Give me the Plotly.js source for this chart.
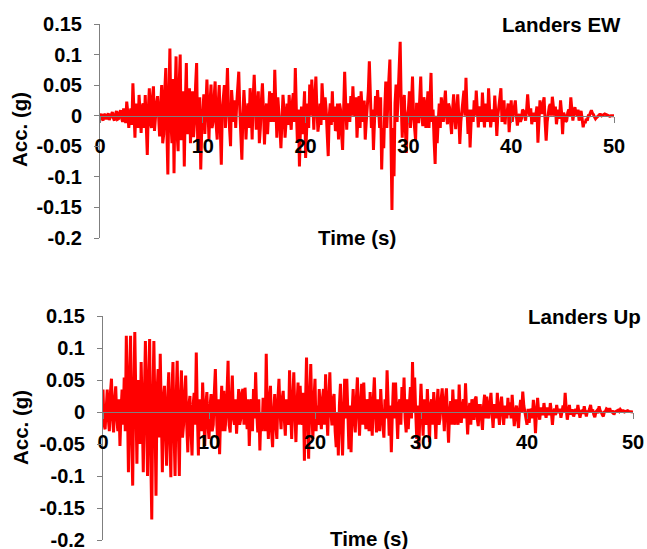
<!DOCTYPE html>
<html><head><meta charset="utf-8">
<script src="https://cdn.plot.ly/plotly-3.0.1.min.js"></script>
<style>html,body{margin:0;padding:0;background:#fff}#chart{width:647px;height:549px}</style>
</head><body><div id="chart"></div>
<script>
// sample interval (s)
const dt = 0.1;
// Landers EW acceleration (g), one value every 0.1 s from 0 to 50 s (one row per second)
const ewAcc = [
0, 0.003, -0.004, -0.008, 0.003, 0.001, -0.006, -0.002, 0.004, -0.007,
-0.003, 0.004, 0.006, -0.004, -0.008, 0.002, 0.008, -0.006, -0.005, 0.005,
0.009, -0.004, -0.01, 0.012, 0.007, -0.012, 0.023, 0.006, -0.02, 0.002,
0.012, -0.015, 0.053, 0.01, -0.036, 0.02, 0.01, -0.02, 0.034, 0.005,
-0.028, 0.015, 0.02, -0.02, 0.034, -0.015, -0.064, 0.01, 0.045, -0.01,
-0.02, 0.03, 0.048, -0.025, 0.005, 0.02, 0.032, -0.01, -0.034, 0.015,
0.05, -0.045, -0.03, 0.04, 0.078, -0.02, -0.096, 0.03, 0.11, -0.01,
-0.045, 0.06, -0.094, 0.03, 0.097, -0.03, -0.058, 0.05, 0.1, -0.04,
-0.02, 0.04, -0.083, 0.02, 0.086, -0.03, 0.01, 0.045, -0.045, 0.02,
0.04, -0.035, -0.01, 0.05, 0.086, -0.04, -0.02, 0.03, -0.088, -0.02,
0.015, 0.035, -0.03, 0.02, 0.059, 0.01, -0.039, 0.02, 0.051, -0.02,
-0.01, 0.03, 0.056, -0.015, -0.039, 0.02, 0.05, -0.02, -0.08, 0.01,
0.03, 0.05, -0.02, 0.03, 0.078, 0.01, -0.023, -0.05, 0.042, 0.01,
-0.01, 0.025, -0.02, 0.02, 0.04, 0.072, 0.01, -0.03, -0.072, 0.0,
0.042, 0.01, -0.039, 0.0, 0.02, -0.02, 0.045, 0.015, -0.039, 0.03,
0.067, 0.02, -0.023, 0.015, 0.04, -0.045, -0.02, 0.025, 0.053, 0.01,
-0.047, 0.0, 0.02, -0.03, 0.023, 0.04, -0.01, 0.015, 0.037, -0.01,
0.075, 0.02, -0.036, 0.03, 0.01, -0.02, -0.053, 0.0, 0.034, 0.01,
-0.036, -0.01, 0.02, -0.015, 0.034, 0.0, -0.023, 0.02, 0.037, -0.01,
0.078, 0.01, -0.042, 0.01, -0.083, -0.02, 0.015, -0.03, 0.004, 0.04,
-0.069, -0.01, 0.02, -0.02, 0.051, 0.0, 0.059, 0.02, -0.023, 0.03,
0.064, 0.01, -0.026, -0.01, 0.02, -0.015, 0.053, 0.02, -0.007, 0.03,
0.01, -0.03, -0.066, 0.0, 0.02, -0.015, 0.04, -0.01, 0.015, -0.025,
-0.02, 0.02, -0.039, 0.02, 0.01, -0.03, -0.056, 0.01, 0.072, 0.02,
-0.023, 0.02, 0.015, -0.01, 0.032, 0.0, 0.048, 0.01, 0.0, 0.03,
-0.036, 0.0, 0.032, -0.02, 0.04, 0.01, -0.01, 0.025, -0.039, -0.01,
0.018, 0.04, 0.089, 0.02, -0.02, 0.01, -0.056, -0.01, 0.032, 0.0,
0.042, 0.01, -0.02, 0.03, -0.088, -0.02, -0.053, 0.01, 0.056, -0.02,
0.01, 0.06, 0.092, -0.04, -0.154, -0.02, -0.099, 0.02, 0.051, -0.01,
0.03, 0.07, 0.121, 0.02, -0.036, 0.01, 0.034, -0.02, -0.061, 0.0,
0.01, 0.04, -0.02, 0.02, 0.064, 0.0, -0.026, -0.04, 0.021, -0.01,
-0.01, 0.03, 0.064, 0.0, -0.017, 0.03, 0.02, -0.02, 0.021, 0.04,
-0.02, 0.03, 0.07, -0.01, 0.01, -0.04, -0.079, 0.0, -0.045, -0.01,
0.02, -0.02, 0.03, 0.01, -0.01, 0.02, 0.041, 0.0, -0.014, 0.02,
0.014, -0.01, -0.03, 0.01, 0.035, 0.0, -0.022, 0.01, 0.035, 0.0,
-0.046, -0.01, 0.01, 0.02, 0.041, 0.0, 0.062, 0.01, -0.03, 0.01,
-0.052, -0.01, 0.01, -0.01, 0.025, 0.0, 0.041, 0.01, -0.019, 0.015,
0.01, -0.01, 0.038, 0.005, -0.019, 0.02, 0.01, -0.01, 0.045, 0.01,
-0.019, 0.0, 0.01, -0.01, 0.033, 0.005, -0.033, 0.0, 0.02, 0.03,
0.045, -0.01, 0.01, 0.025, -0.014, 0.01, 0.005, 0.02, -0.027, 0.0,
0.025, -0.01, 0.005, 0.015, 0.025, 0.0, -0.016, -0.005, 0.003, -0.01,
-0.005, 0.01, 0.008, 0.0, -0.008, 0.01, 0.035, 0.01, 0.0, 0.012,
-0.014, 0.0, 0.005, -0.01, 0.008, 0.015, -0.044, 0.0, 0.025, 0.005,
0.005, 0.02, 0.03, -0.01, -0.041, -0.01, 0.005, 0.015, 0.019, 0.0,
0.031, 0.01, 0.0, 0.015, -0.014, 0.0, 0.01, -0.005, 0.025, 0.005,
-0.03, 0.005, 0.0, -0.01, -0.008, 0.005, 0.01, 0.0, 0.03, 0.01,
-0.008, 0.005, 0.014, 0.005, 0.0, 0.01, -0.008, 0.0, 0.008, -0.005,
-0.019, -0.01, -0.012, -0.005, -0.008, 0.0, 0.0, 0.005, 0.009, 0.004,
0.002, -0.002, -0.005, -0.003, -0.002, 0.0, 0.002, 0.002, 0.0, 0.001,
0.003, 0.003, 0.002, 0.001, 0.001, 0.0, -0.001, 0.0, 0.0, 0.0,
0.0
];
// Landers Up acceleration (g), one value every 0.1 s from 0 to 50 s (one row per second)
const upAcc = [
0.035, -0.02, -0.027, 0.02, 0.035, -0.01, -0.03, 0.03, 0.052, -0.01,
-0.032, 0.02, 0.04, -0.01, -0.03, 0.02, -0.053, 0.0, 0.035, -0.02,
0.054, -0.03, 0.119, 0.02, -0.094, 0.05, 0.119, -0.04, -0.115, 0.03,
0.125, 0.02, -0.081, 0.05, 0.03, -0.05, 0.078, 0.0, -0.094, 0.02,
0.111, 0.0, -0.1, 0.05, 0.114, -0.06, -0.168, 0.02, 0.111, 0.0,
-0.131, 0.03, 0.067, -0.04, 0.091, 0.0, -0.094, 0.02, 0.041, -0.03,
-0.084, 0.02, 0.062, -0.04, -0.102, 0.03, 0.078, -0.03, -0.1, 0.02,
0.08, -0.02, -0.1, 0.02, 0.065, -0.04, -0.02, 0.03, 0.057, -0.02,
-0.063, 0.01, 0.025, -0.03, -0.068, 0.01, 0.03, -0.02, 0.093, 0.0,
-0.068, 0.02, 0.01, -0.03, 0.046, 0.0, -0.053, 0.01, 0.031, -0.02,
-0.042, 0.01, 0.028, -0.03, -0.02, 0.03, 0.067, 0.0, -0.042, 0.02,
-0.066, 0.0, 0.041, -0.03, 0.033, -0.03, -0.01, 0.03, 0.08, -0.02,
-0.032, 0.02, 0.057, -0.01, -0.02, 0.02, -0.034, 0.0, 0.036, -0.02,
-0.01, 0.03, 0.036, -0.02, 0.038, 0.0, -0.027, 0.02, -0.053, 0.0,
0.02, -0.03, 0.036, -0.01, 0.062, 0.0, -0.032, 0.02, -0.06, 0.0,
-0.03, 0.02, 0.02, -0.03, 0.091, 0.0, -0.042, 0.02, 0.041, -0.03,
-0.055, 0.0, 0.028, -0.02, -0.042, 0.02, 0.052, 0.0, -0.027, 0.02,
0.033, -0.01, -0.037, 0.02, 0.01, -0.02, 0.065, 0.0, -0.042, 0.02,
0.062, 0.0, -0.047, 0.01, 0.046, -0.02, 0.041, 0.0, -0.02, 0.03,
-0.076, 0.01, 0.085, 0.0, -0.073, 0.02, 0.075, 0.0, -0.042, 0.02,
0.052, -0.03, 0.01, -0.02, 0.036, 0.0, -0.027, 0.02, 0.036, -0.02,
0.059, 0.0, -0.037, 0.02, 0.062, 0.0, -0.021, 0.02, 0.028, -0.03,
-0.055, 0.0, -0.068, 0.01, 0.044, -0.02, -0.068, 0.0, 0.052, -0.01,
0.052, 0.0, -0.058, 0.01, -0.063, 0.0, 0.036, -0.01, -0.032, 0.02,
0.054, 0.0, -0.037, 0.01, 0.044, -0.02, 0.046, 0.0, -0.027, 0.02,
0.01, -0.03, 0.031, 0.0, -0.037, 0.02, 0.054, 0.0, -0.032, 0.02,
0.01, -0.03, 0.036, 0.0, -0.027, -0.04, 0.02, -0.01, 0.065, 0.0,
-0.037, 0.01, -0.063, 0.0, 0.046, -0.01, 0.046, 0.0, -0.042, 0.01,
0.02, -0.02, 0.039, 0.0, 0.054, -0.01, -0.032, 0.02, -0.027, 0.01,
0.039, -0.01, 0.078, 0.0, 0.054, 0.0, -0.042, 0.01, -0.058, 0.0,
0.044, 0.0, -0.037, 0.02, 0.01, -0.02, 0.036, 0.0, -0.047, 0.01,
0.02, -0.02, 0.031, 0.0, -0.042, 0.01, 0.036, -0.02, -0.01, 0.02,
0.037, 0.0, -0.03, 0.02, 0.037, -0.01, -0.048, 0.0, 0.017, -0.02,
0.035, 0.0, -0.02, 0.02, 0.01, -0.02, 0.043, 0.0, -0.017, 0.01,
0.02, -0.01, 0.045, 0.0, -0.035, 0.0, 0.014, -0.02, 0.02, -0.01,
-0.01, 0.02, 0.024, -0.01, -0.022, 0.01, 0.01, -0.01, -0.028, 0.01,
0.027, -0.01, 0.024, 0.0, -0.01, 0.015, 0.03, 0.0, -0.025, 0.01,
0.01, -0.01, 0.03, 0.0, -0.02, 0.01, 0.024, 0.0, -0.02, 0.01,
0.005, -0.01, 0.022, -0.005, 0.015, -0.01, 0.027, 0.0, -0.022, 0.0,
0.01, -0.01, -0.025, 0.005, 0.019, 0.0, 0.032, 0.01, 0.0, -0.01,
-0.02, 0.005, -0.017, 0.0, 0.005, -0.01, 0.019, 0.0, -0.033, 0.0,
0.022, 0.0, -0.012, 0.005, 0.005, -0.005, 0.014, 0.0, -0.009, 0.005,
0.005, -0.005, 0.014, 0.0, -0.02, 0.0, 0.005, -0.005, 0.011, 0.0,
0.0, 0.005, -0.009, 0.0, 0.01, 0.0, 0.03, 0.005, -0.012, 0.0,
0.011, -0.004, 0.002, 0.004, -0.007, 0.0, 0.005, -0.003, 0.011, 0.0,
-0.009, 0.0, 0.003, -0.003, 0.009, 0.0, -0.007, 0.002, 0.0, 0.005,
0.011, 0.0, 0.004, -0.004, -0.008, 0.0, 0.002, -0.002, 0.009, 0.002,
0.0, -0.004, -0.007, 0.0, 0.001, 0.005, 0.004, 0.0, 0.006, 0.001,
0.0, 0.002, -0.004, 0.0, 0.001, 0.003, 0.003, 0.001, 0.004, 0.002,
0.002, 0.002, 0.0, 0.001, 0.001, 0.002, 0.001, 0.001, 0.0, 0.0,
0.0
];
const seriesNames = ['Landers EW', 'Landers Up'];
const xTickVals = [0, 10, 20, 30, 40, 50];
const xTickText = ['0', '10', '20', '30', '40', '50'];
const yTickVals = [-0.2, -0.15, -0.1, -0.05, 0, 0.05, 0.1, 0.15];
const yTickText = ['-0.2', '-0.15', '-0.1', '-0.05', '0', '0.05', '0.1', '0.15'];
const xTitle = 'Time (s)';
const yTitle = 'Acc. (g)';

const W = 647, H = 549;
const yRange = [-0.2, 0.15];
const family = 'Liberation Sans, Arial, sans-serif';
const tickFont = {family: family, size: 20, color: '#000', weight: 'bold'};
const titleFont = {family: family, size: 20.5, color: '#000', weight: 'bold'};
const axisGray = '#7f7f7f';

// plot boxes in pixels (left, right, top, bottom)
const boxes = [
  {l: 100, r: 614, t: 24, b: 238},
  {l: 103, r: 633, t: 316, b: 540}
];
const px = v => v / W, py = v => 1 - v / H;

const traces = [ewAcc, upAcc].map((arr, i) => ({
  type: 'scatter', mode: 'lines', x0: 0, dx: dt, y: arr,
  xaxis: i ? 'x2' : 'x', yaxis: i ? 'y2' : 'y',
  line: {color: '#ff0000', width: 3}, name: seriesNames[i], hoverinfo: 'skip'
}));

const layout = {
  width: W, height: H, margin: {l: 0, r: 0, t: 0, b: 0},
  paper_bgcolor: '#fff', plot_bgcolor: 'rgba(0,0,0,0)', showlegend: false, font: tickFont,
  annotations: []
};
boxes.forEach((bx, i) => {
  const s = i ? '2' : '';
  const yDom = [py(bx.b), py(bx.t)];
  const zeroPos = yDom[0] + (0 - yRange[0]) / (yRange[1] - yRange[0]) * (yDom[1] - yDom[0]);
  layout['xaxis' + s] = {
    domain: [px(bx.l), px(bx.r)], range: [0, 50], anchor: 'free', position: zeroPos,
    tickvals: xTickVals, ticktext: xTickText, ticks: 'outside', ticklen: 6, tickcolor: axisGray,
    showline: true, linecolor: axisGray, linewidth: 1, showgrid: false, zeroline: false,
    tickfont: tickFont, ticklabelstandoff: 6, fixedrange: true
  };
  layout['yaxis' + s] = {
    domain: yDom, range: yRange, anchor: 'x' + s,
    tickvals: yTickVals, ticktext: yTickText, ticks: 'outside', ticklen: 5, tickcolor: axisGray,
    showline: true, linecolor: axisGray, linewidth: 1, showgrid: false, zeroline: false,
    tickfont: tickFont, ticklabelstandoff: 8, ticklabeloverflow: 'allow', fixedrange: true
  };
  layout.annotations.push(
    {text: seriesNames[i], xref: 'paper', yref: 'paper', x: px(i ? 643 : 623), y: py(i ? 316 : 24),
     xanchor: 'right', yanchor: 'middle', showarrow: false, font: titleFont},
    {text: xTitle, xref: 'paper', yref: 'paper', x: px(i ? 369 : 357), y: py(i ? 538 : 237),
     xanchor: 'center', yanchor: 'middle', showarrow: false, font: titleFont},
    {text: yTitle, xref: 'paper', yref: 'paper', x: px(20), y: py(i ? 428 : 130), textangle: -90,
     xanchor: 'center', yanchor: 'middle', showarrow: false, font: titleFont}
  );
});
Plotly.newPlot('chart', traces, layout, {displayModeBar: false, staticPlot: true});
</script>
</body></html>
